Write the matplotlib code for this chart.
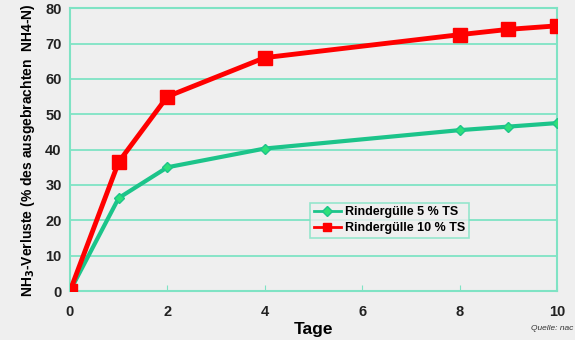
import matplotlib
matplotlib.use("Agg")
import matplotlib.pyplot as plt

plt.rcParams['font.family'] = ['Liberation Sans', 'DejaVu Sans']

days = [0, 1, 2, 4, 8, 9, 10]
guelle_5 = [0, 26.3, 35.0, 40.3, 45.5, 46.5, 47.5]
guelle_10 = [0, 36.5, 55.0, 66.0, 72.5, 74.0, 75.0]
series_labels = ["Rindergülle 5 % TS", "Rindergülle 10 % TS"]
xticks = [0, 2, 4, 6, 8, 10]
yticks = [0, 10, 20, 30, 40, 50, 60, 70, 80]

bg = "#efefef"
grid_c = "#7fe3c4"
green_line = "#1cc48a"

fig = plt.figure(figsize=(5.75, 3.4), dpi=100, facecolor=bg)
ax = fig.add_axes([0.1217, 0.144, 0.847, 0.832], facecolor=bg)

ax.plot(days, guelle_5, color=green_line, lw=3, marker="D", ms=5,
        mfc="#2ee07a", mec=green_line, label=series_labels[0], zorder=3)
ax.plot(days, guelle_10, color="#ff0000", lw=3.5, marker="s", ms=10,
        mfc="#ff0000", mec="#ff0000", label=series_labels[1], zorder=4)

ax.set_xlim(0, 10)
ax.set_ylim(0, 80)
ax.set_xticks(xticks)
ax.set_yticks(yticks)
ax.yaxis.grid(True, color=grid_c, lw=1.3)
ax.set_axisbelow(True)
for s in ax.spines.values():
    s.set_color(grid_c)
    s.set_linewidth(1.5)
ax.tick_params(axis="x", direction="in", length=4, color=grid_c, pad=10)
ax.tick_params(axis="y", length=0, pad=6)
for lab in ax.get_xticklabels() + ax.get_yticklabels():
    lab.set_fontweight("bold")
    lab.set_fontsize(10.5)
    lab.set_color("#222222")

ax.set_xlabel("Tage", fontsize=12.5, fontweight="bold", labelpad=2)
ax.set_ylabel("NH$_\\mathbf{3}$-Verluste (% des ausgebrachten  NH4-N)", fontsize=10,
              fontweight="bold", labelpad=6)

leg = ax.legend(loc="upper left", bbox_to_anchor=(0.48, 0.335), frameon=True,
                fancybox=False, edgecolor=grid_c, facecolor=bg,
                prop={"family": "Liberation Sans", "weight": "bold", "size": 9},
                handlelength=2.2, borderpad=0.3, labelspacing=0.3, handletextpad=0.3)
leg.get_frame().set_linewidth(1.2)
for h in leg.legend_handles:
    h.set_linewidth(2)
leg.legend_handles[0].set_markersize(5)
leg.legend_handles[1].set_markersize(6)

fig.text(0.997, 0.03, "Quelle: nac", fontsize=6, style="italic", color="#333333", ha="right")

fig.savefig("out.png", dpi=100, facecolor=bg)
